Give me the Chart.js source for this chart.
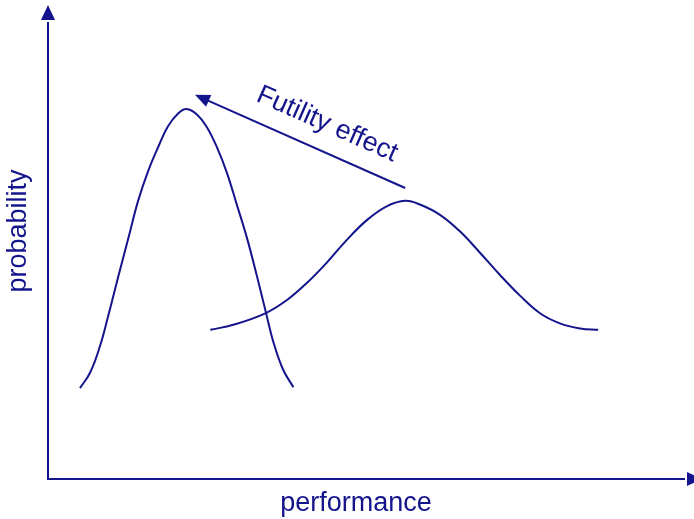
<!DOCTYPE html>
<html>
<head>
<meta charset="utf-8">
<script src="https://cdn.jsdelivr.net/npm/chart.js@4.4.1/dist/chart.umd.min.js"></script>
<style>
  html, body { margin: 0; padding: 0; background: #fff; }
  #wrap { width: 694px; height: 519px; }
</style>
</head>
<body>
<div id="wrap"><canvas id="curveChart"></canvas></div>
<script>
// curve points (performance, probability), 0-100 units
const beforeX = [5.0, 6.6, 8.1, 9.4, 11.0, 12.6, 14.1, 15.7, 17.3, 18.8, 20.4, 21.7, 23.3, 24.8, 26.4, 28.0, 29.5, 31.1, 32.7, 34.1, 35.3, 36.8, 38.4];
const beforeY = [19.8, 23.2, 28.8, 35.4, 44.1, 52.6, 60.6, 67.2, 72.5, 76.9, 79.7, 80.6, 79.4, 76.8, 72.4, 66.7, 60.0, 52.7, 44.2, 36.3, 29.7, 23.8, 20.0];
const afterX = [25.4, 29.0, 34.0, 37.4, 40.5, 43.6, 46.7, 49.9, 53.0, 55.9, 58.2, 61.4, 64.5, 67.6, 70.7, 73.9, 77.0, 80.1, 83.3, 86.1];
const afterY = [32.5, 33.6, 36.1, 39.0, 42.7, 47.1, 52.0, 56.4, 59.4, 60.6, 59.8, 57.5, 53.9, 49.3, 44.5, 39.9, 36.1, 33.9, 32.8, 32.5];

// arrow "Futility effect": from tail to tip, label anchor
const arrowFrom = [55.9, 63.4];
const arrowTo = [23.0, 83.7];
const arrowLabel = 'Futility effect';
const labelAt = [43.2, 75.8];

const xTitle = 'performance';
const yTitle = 'probability';

const navy = '#14148c';
const font = '27px "Liberation Sans", Arial, sans-serif';

function toPoints(xs, ys) {
  return xs.map((x, i) => ({ x: x, y: ys[i] }));
}

function arrowHead(ctx, tx, ty, angle, len, half) {
  ctx.save();
  ctx.translate(tx, ty);
  ctx.rotate(angle);
  ctx.beginPath();
  ctx.moveTo(0, 0);
  ctx.lineTo(-len, -half);
  ctx.lineTo(-len, half);
  ctx.closePath();
  ctx.fill();
  ctx.restore();
}

// axes with arrows, axis titles, the annotation arrow and its text
const extras = {
  id: 'extras',
  afterDraw(chart) {
    const ctx = chart.ctx;
    const a = chart.chartArea;
    const xs = chart.scales.x, ys = chart.scales.y;
    ctx.save();
    ctx.strokeStyle = navy;
    ctx.fillStyle = navy;
    ctx.lineWidth = 2;

    // y axis
    ctx.beginPath();
    ctx.moveTo(a.left, a.bottom + 1);
    ctx.lineTo(a.left, a.top + 2);
    ctx.stroke();
    arrowHead(ctx, a.left, a.top - 15, -Math.PI / 2, 15, 7);

    // x axis
    ctx.beginPath();
    ctx.moveTo(a.left - 1, a.bottom);
    ctx.lineTo(a.right - 2, a.bottom);
    ctx.stroke();
    arrowHead(ctx, a.right + 15, a.bottom, 0, 15, 7);

    // axis titles
    ctx.font = font;
    ctx.textAlign = 'center';
    ctx.textBaseline = 'middle';
    ctx.fillText(xTitle, 356, 504);
    ctx.save();
    ctx.translate(19, 231);
    ctx.rotate(-Math.PI / 2);
    ctx.fillText(yTitle, 0, 0);
    ctx.restore();

    // futility arrow
    const x0 = xs.getPixelForValue(arrowFrom[0]), y0 = ys.getPixelForValue(arrowFrom[1]);
    const x1 = xs.getPixelForValue(arrowTo[0]), y1 = ys.getPixelForValue(arrowTo[1]);
    const ang = Math.atan2(y1 - y0, x1 - x0);
    ctx.beginPath();
    ctx.moveTo(x0, y0);
    ctx.lineTo(x1 - Math.cos(ang) * 10, y1 - Math.sin(ang) * 10);
    ctx.stroke();
    arrowHead(ctx, x1, y1, ang, 15, 6.5);

    // label
    const lx = xs.getPixelForValue(labelAt[0]), ly = ys.getPixelForValue(labelAt[1]);
    ctx.translate(lx, ly);
    ctx.rotate(ang + Math.PI);
    ctx.textBaseline = 'alphabetic';
    ctx.fillText(arrowLabel, 0, 0);
    ctx.restore();
  }
};

const data = {
  datasets: [
    {
      label: 'before',
      data: toPoints(beforeX, beforeY),
      borderColor: navy,
      borderWidth: 2,
      pointRadius: 0,
      tension: 0.4,
      fill: false
    },
    {
      label: 'after',
      data: toPoints(afterX, afterY),
      borderColor: navy,
      borderWidth: 2,
      pointRadius: 0,
      tension: 0.4,
      fill: false
    }
  ]
};

const config = {
  type: 'line',
  data: data,
  options: {
    responsive: true,
    maintainAspectRatio: false,
    animation: false,
    layout: { padding: { top: 20, right: 7, left: 48, bottom: 40 } },
    plugins: {
      legend: { display: false },
      tooltip: { enabled: false }
    },
    scales: {
      x: {
        type: 'linear',
        display: false,
        min: 0,
        max: 100
      },
      y: {
        display: false,
        min: 0,
        max: 100
      }
    }
  },
  plugins: [extras]
};

var ctx1 = document.getElementById('curveChart').getContext('2d');
var myChart1 = new Chart(ctx1, config);
</script>
</body>
</html>
